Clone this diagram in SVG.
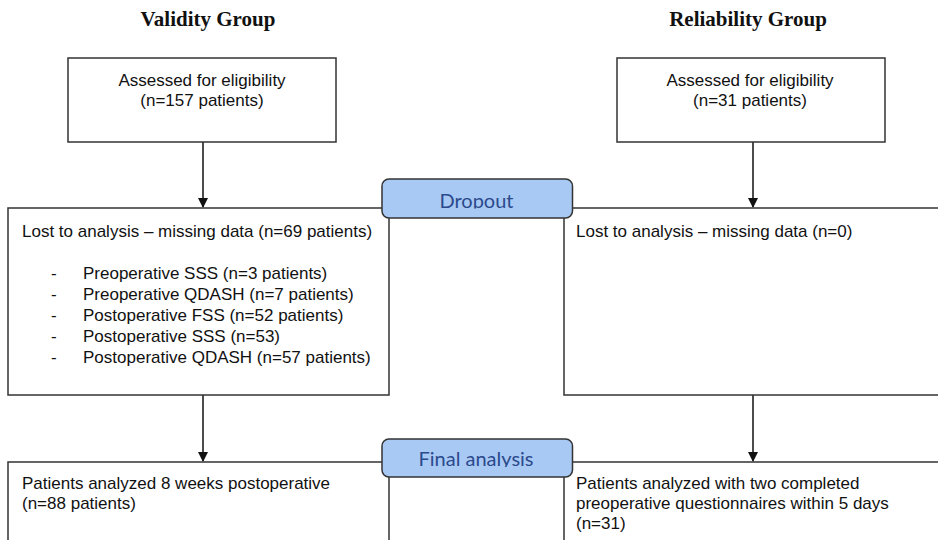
<svg xmlns="http://www.w3.org/2000/svg" width="938" height="540" viewBox="0 0 938 540">
<style>
.box{fill:#ffffff;stroke:#333333;stroke-width:1.5}
.tag{fill:#a9c9f5;stroke:#333333;stroke-width:1.5}
.hd{font-family:"Liberation Serif",serif;font-weight:bold;font-size:21px;fill:#111}
.t{font-family:"Liberation Sans",Arial,sans-serif;font-size:17px;fill:#111}
.tg{font-family:Lato,"Open Sans",sans-serif;font-size:20px;fill:#2b4a8c}
.c{stroke:#111;stroke-width:1.5;fill:none}
</style>
<defs>
<marker id="ah" markerWidth="10" markerHeight="10" refX="9" refY="5" orient="auto" markerUnits="userSpaceOnUse">
<path d="M0,0 L10,5 L0,10 Z" fill="#111"/>
</marker>
<clipPath id="clipD"><rect x="382" y="179" width="191" height="29.5"/></clipPath>
<clipPath id="clipF"><rect x="382" y="439" width="191" height="28"/></clipPath>
</defs>
<rect width="938" height="540" fill="#ffffff"/>
<text class="hd" x="208" y="26" text-anchor="middle">Validity Group</text>
<text class="hd" x="748" y="26" text-anchor="middle">Reliability Group</text>
<g id="connectors">
<line class="c" x1="203" y1="142" x2="203" y2="207" marker-end="url(#ah)"/>
<line class="c" x1="753" y1="142" x2="753" y2="207" marker-end="url(#ah)"/>
<line class="c" x1="203" y1="395" x2="203" y2="461" marker-end="url(#ah)"/>
<line class="c" x1="753" y1="395" x2="753" y2="461" marker-end="url(#ah)"/>
</g>
<g id="assess-validity">
<rect class="box" x="68" y="58" width="268" height="84"/>
<text class="t" x="202" y="86" text-anchor="middle">Assessed for eligibility</text>
<text class="t" x="202" y="106" text-anchor="middle">(n=157 patients)</text>
</g>
<g id="assess-reliability">
<rect class="box" x="617" y="58" width="268" height="84"/>
<text class="t" x="750" y="86" text-anchor="middle">Assessed for eligibility</text>
<text class="t" x="750" y="106" text-anchor="middle">(n=31 patients)</text>
</g>
<g id="lost-validity">
<rect class="box" x="8" y="208" width="381" height="187"/>
<text class="t" x="22" y="237">Lost to analysis – missing data (n=69 patients)</text>
<text class="t" x="51" y="279">-</text><text class="t" x="83" y="279">Preoperative SSS (n=3 patients)</text>
<text class="t" x="51" y="300">-</text><text class="t" x="83" y="300">Preoperative QDASH (n=7 patients)</text>
<text class="t" x="51" y="321">-</text><text class="t" x="83" y="321">Postoperative FSS (n=52 patients)</text>
<text class="t" x="51" y="342">-</text><text class="t" x="83" y="342">Postoperative SSS (n=53)</text>
<text class="t" x="51" y="363">-</text><text class="t" x="83" y="363">Postoperative QDASH (n=57 patients)</text>
</g>
<g id="lost-reliability">
<rect class="box" x="564" y="208" width="380" height="187"/>
<text class="t" x="576" y="237">Lost to analysis – missing data (n=0)</text>
</g>
<g id="final-validity">
<rect class="box" x="8" y="462" width="381" height="90"/>
<text class="t" x="22" y="489">Patients analyzed 8 weeks postoperative</text>
<text class="t" x="22" y="509">(n=88 patients)</text>
</g>
<g id="final-reliability">
<rect class="box" x="564" y="462" width="380" height="90"/>
<text class="t" x="576" y="489">Patients analyzed with two completed</text>
<text class="t" x="576" y="509">preoperative questionnaires within 5 days</text>
<text class="t" x="576" y="529">(n=31)</text>
</g>
<g id="dropout">
<rect class="tag" x="382" y="179" width="190.5" height="39" rx="7"/>
<text class="tg" x="476.5" y="207.5" text-anchor="middle" clip-path="url(#clipD)">Dropout</text>
</g>
<g id="final-analysis">
<rect class="tag" x="382" y="439" width="190.5" height="38" rx="7"/>
<text class="tg" x="476" y="466" text-anchor="middle" clip-path="url(#clipF)">Final analysis</text>
</g>
</svg>
